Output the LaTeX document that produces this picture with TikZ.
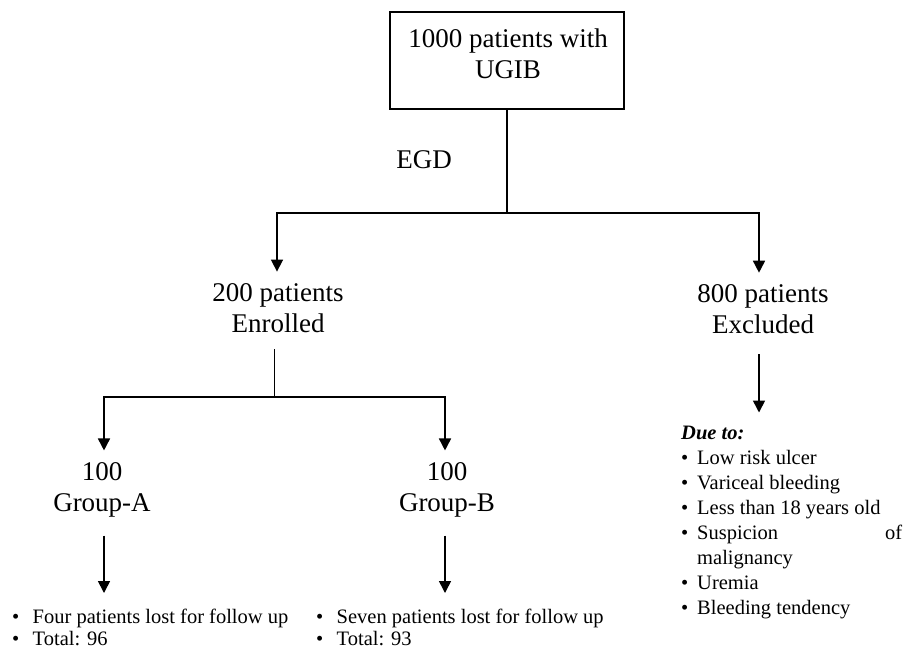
\documentclass[tikz,border=0pt]{standalone}
\usepackage{fontspec}
\setmainfont{Liberation Serif}
\usetikzlibrary{arrows.meta}
\tikzset{
  big/.style={align=center, font=\fontsize{27}{31}\selectfont, inner sep=12pt},
  small/.style={align=flush left, font=\fontsize{20.5}{22}\selectfont, inner sep=0pt, anchor=north west},
  link/.style={line width=1.6pt},
  arr/.style={link, -{Triangle[width=12pt,length=12pt]}},
}
\newcommand{\bul}[1]{\makebox[#1][l]{\textbullet}}
\begin{document}
\begin{tikzpicture}[x=1pt,y=-1pt]
\useasboundingbox (0,0) rectangle (904,649);
% top box
\node (ugib) [draw, link, minimum width=234pt, minimum height=97pt] at (507,60.5) {};
\node (ugibtext) [big, inner sep=0pt] at (508,53.4) {1000 patients with\\UGIB};
\node (egd) [big, inner sep=0pt] at (424,160) {EGD};
% first split
\coordinate (split) at (507,212.7);
\coordinate (splitL) at (277,212.7);
\coordinate (splitR) at (759,212.7);
\node (enrolled) [big] at (278,308.4) {200 patients\\Enrolled};
\node (excluded) [big] at (763,309.5) {800 patients\\Excluded};
\draw[link] (ugib.south) -- (split);
\draw[arr] (split) -- (splitL) -- (splitL |- enrolled.north);
\draw[arr] (split) -- (splitR) -- (splitR |- excluded.north);
% groups
\coordinate (fork) at (274.3,396.7);
\coordinate (forkL) at (104,396.7);
\coordinate (forkR) at (445,396.7);
\node (grpA) [big] at (102,490) {100\\Group-A};
\node (grpB) [big] at (447,490) {100\\Group-B};
\draw[link, shorten <=4pt] (enrolled.south -| fork) -- (fork);
\draw[arr] (fork) -- (forkL) -- (forkL |- grpA.north);
\draw[arr] (fork) -- (forkR) -- (forkR |- grpB.north);
% lists
\node (listA) [small] at (12,608.5) {\bul{20.5pt}Four patients lost for follow up\\\bul{20.5pt}Total: 96};
\node (listB) [small] at (316,608.5) {\bul{20.5pt}Seven patients lost for follow up\\\bul{20.5pt}Total: 93};
\node (due) [small, text width=221pt, font=\fontsize{20.5}{25}\selectfont] at (681,425.5) {\textbf{\textit{Due to:}}\\
\bul{16pt}Low risk ulcer\\
\bul{16pt}Variceal bleeding\\
\bul{16pt}Less than 18 years old\\
\bul{16pt}Suspicion\hfill of\\
\hspace*{16pt}malignancy\\
\bul{16pt}Uremia\\
\bul{16pt}Bleeding tendency};
\draw[arr, shorten <=6pt, shorten >=15.5pt] (forkL |- grpA.south) -- (forkL |- listA.north);
\draw[arr, shorten <=6pt, shorten >=15.5pt] (forkR |- grpB.south) -- (forkR |- listB.north);
\draw[arr, shorten <=8pt, shorten >=13pt] (splitR |- excluded.south) -- (splitR |- due.north);
\end{tikzpicture}
\end{document}
